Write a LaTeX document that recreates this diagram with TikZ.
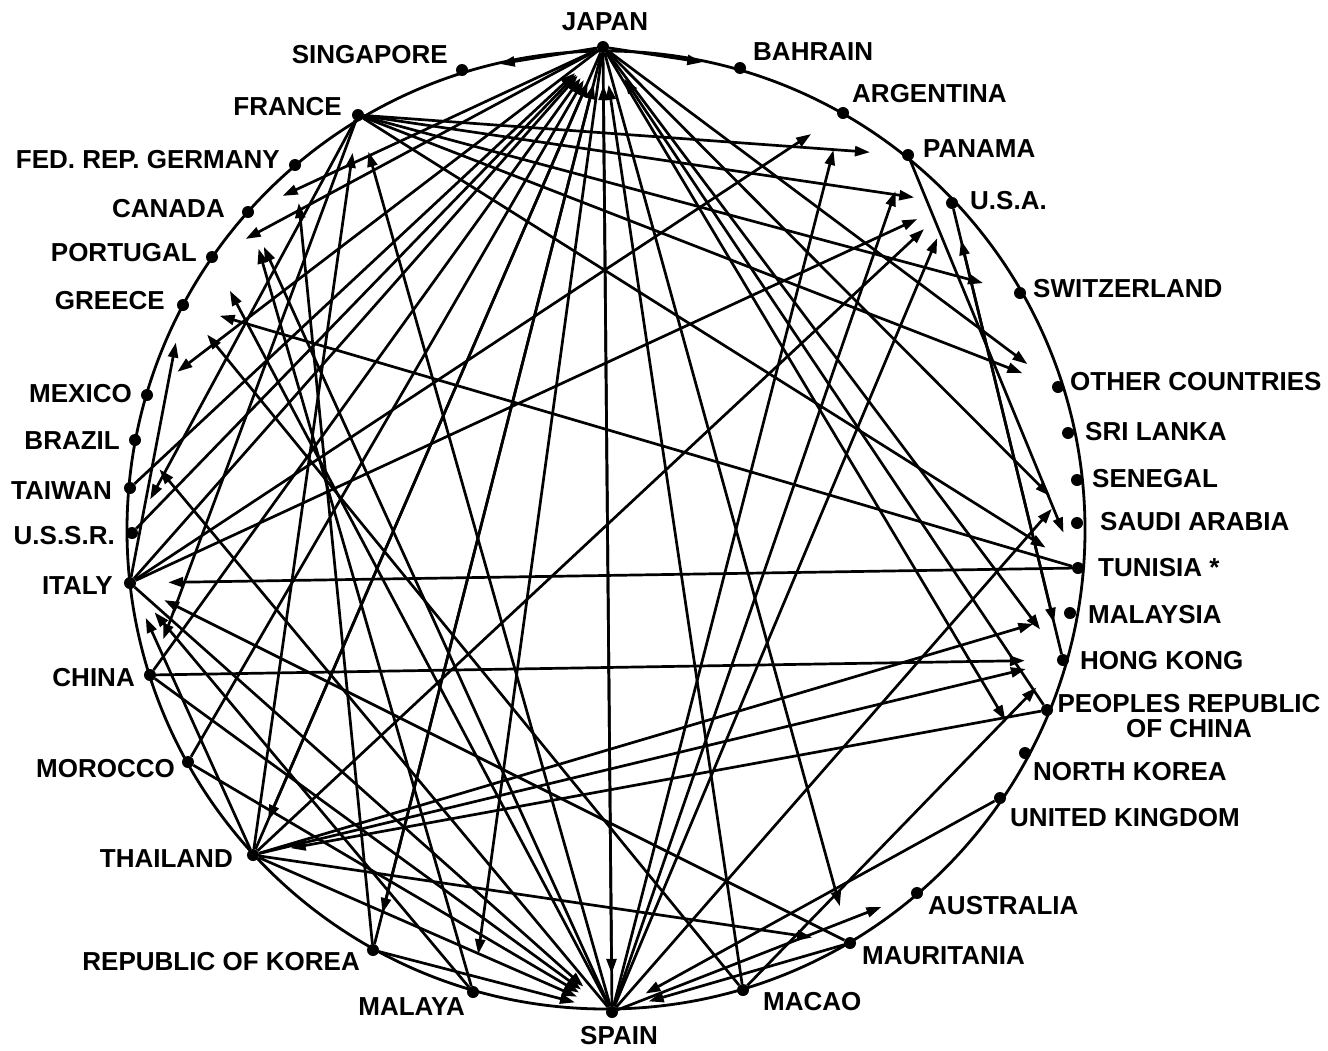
\documentclass[tikz,border=0pt]{standalone}
\usepackage{fontspec}
\setmainfont{Liberation Sans}
\usetikzlibrary{arrows.meta}
\newcommand{\labfont}{\bfseries\fontsize{26}{25}\selectfont}
\tikzset{
  dot/.style={circle, fill=black, inner sep=0pt, minimum size=12pt},
  lab/.style={font=\labfont, inner sep=0pt, text=black},
  link/.style={line width=2.7pt, -{Triangle[length=15pt,width=10pt]}, shorten >=32pt},
  rim/.style={circle, draw=black, line width=2.8pt, inner sep=0pt, minimum size=958pt}
}
\begin{document}
\begin{tikzpicture}[x=1pt,y=-1pt]
\useasboundingbox (0,0) rectangle (1328,1050);
\node[rim] (circ) at (606,530) {};
% dots
\node[dot] (japan) at (603,47) {};
\node[dot] (singapore) at (462,70) {};
\node[dot] (bahrain) at (740,68) {};
\node[dot] (argentina) at (843,113) {};
\node[dot] (panama) at (908,155) {};
\node[dot] (usa) at (952,203) {};
\node[dot] (switzerland) at (1020,293) {};
\node[dot] (other) at (1058,387) {};
\node[dot] (srilanka) at (1068,433) {};
\node[dot] (senegal) at (1077,480) {};
\node[dot] (saudi) at (1077,523) {};
\node[dot] (tunisia) at (1078,568) {};
\node[dot] (malaysia) at (1070,613) {};
\node[dot] (hongkong) at (1063,660) {};
\node[dot] (prc) at (1047,710) {};
\node[dot] (nkorea) at (1025,753) {};
\node[dot] (uk) at (1000,798) {};
\node[dot] (australia) at (917,893) {};
\node[dot] (mauritania) at (850,943) {};
\node[dot] (macao) at (743,990) {};
\node[dot] (spain) at (612,1012) {};
\node[dot] (malaya) at (473,992) {};
\node[dot] (korea) at (373,950) {};
\node[dot] (thailand) at (253,855) {};
\node[dot] (morocco) at (188,762) {};
\node[dot] (china) at (150,675) {};
\node[dot] (italy) at (130,583) {};
\node[dot] (ussr) at (132,533) {};
\node[dot] (taiwan) at (130,488) {};
\node[dot] (brazil) at (135,440) {};
\node[dot] (mexico) at (147,395) {};
\node[dot] (greece) at (183,305) {};
\node[dot] (portugal) at (212,257) {};
\node[dot] (canada) at (248,212) {};
\node[dot] (germany) at (295,165) {};
\node[dot] (france) at (358,115) {};
% labels
\node[lab] (ljapan) at (605,22) {JAPAN};
\node[lab, anchor=east] (lsingapore) at (448,55) {SINGAPORE};
\node[lab, anchor=west] (lbahrain) at (753,52) {BAHRAIN};
\node[lab, anchor=west] (largentina) at (852,94) {ARGENTINA};
\node[lab, anchor=west] (lpanama) at (923,149) {PANAMA};
\node[lab, anchor=west] (lusa) at (970,201) {U.S.A.};
\node[lab, anchor=west] (lswitzerland) at (1033,289) {SWITZERLAND};
\node[lab, anchor=west] (lother) at (1070,382) {OTHER COUNTRIES};
\node[lab, anchor=west] (lsrilanka) at (1085,432) {SRI LANKA};
\node[lab, anchor=west] (lsenegal) at (1092,479) {SENEGAL};
\node[lab, anchor=west] (lsaudi) at (1100,522) {SAUDI ARABIA};
\node[lab, anchor=west] (ltunisia) at (1098,568) {TUNISIA *};
\node[lab, anchor=west] (lmalaysia) at (1088,615) {MALAYSIA};
\node[lab, anchor=west] (lhongkong) at (1080,661) {HONG KONG};
\node[lab, align=center] (lprc) at (1189,716) {PEOPLES REPUBLIC\\OF CHINA};
\node[lab, anchor=west] (lnkorea) at (1033,772) {NORTH KOREA};
\node[lab, anchor=west] (luk) at (1010,818) {UNITED KINGDOM};
\node[lab, anchor=west] (laustralia) at (928,906) {AUSTRALIA};
\node[lab, anchor=west] (lmauritania) at (862,956) {MAURITANIA};
\node[lab, anchor=west] (lmacao) at (763,1002) {MACAO};
\node[lab] (lspain) at (619,1036) {SPAIN};
\node[lab, anchor=east] (lmalaya) at (465,1007) {MALAYA};
\node[lab, anchor=east] (lkorea) at (360,962) {REPUBLIC OF KOREA};
\node[lab, anchor=east] (lthailand) at (233,859) {THAILAND};
\node[lab, anchor=east] (lmorocco) at (175,769) {MOROCCO};
\node[lab, anchor=east] (lchina) at (135,678) {CHINA};
\node[lab, anchor=east] (litaly) at (113,586) {ITALY};
\node[lab, anchor=east] (lussr) at (115,536) {U.S.S.R.};
\node[lab, anchor=east] (ltaiwan) at (112,491) {TAIWAN};
\node[lab, anchor=east] (lbrazil) at (120,441) {BRAZIL};
\node[lab, anchor=east] (lmexico) at (132,394) {MEXICO};
\node[lab, anchor=east] (lgreece) at (165,301) {GREECE};
\node[lab, anchor=east] (lportugal) at (197,253) {PORTUGAL};
\node[lab, anchor=east] (lcanada) at (225,209) {CANADA};
\node[lab, anchor=east] (lgermany) at (280,160) {FED. REP. GERMANY};
\node[lab, anchor=east] (lfrance) at (342,107) {FRANCE};
% connectors
\foreach \a/\b in {
 japan/singapore, japan/bahrain, japan/canada, japan/portugal, japan/mexico,
 japan/spain, spain/japan, japan/other, japan/saudi, japan/hongkong,
 japan/nkorea, japan/mauritania, japan/malaya, japan/korea, japan/thailand,
 italy/japan, ussr/japan, taiwan/japan, china/japan, morocco/japan,
 thailand/japan, korea/japan, macao/japan, prc/japan,
 france/usa, france/panama, france/switzerland, france/other, france/tunisia,
 france/china, france/ussr, spain/france, thailand/france,
 tunisia/italy, tunisia/greece, panama/tunisia,
 china/hongkong, thailand/malaysia, thailand/hongkong, prc/thailand,
 thailand/spain, thailand/mauritania, italy/greece, thailand/usa,
 uk/spain, macao/hongkong, spain/argentina, italy/argentina, spain/panama,
 italy/usa, spain/usa, hongkong/usa, usa/hongkong, spain/senegal,
 spain/australia, spain/canada, malaya/canada, korea/germany, korea/spain,
 mauritania/italy, mauritania/spain, malaya/italy, thailand/italy,
 italy/spain, morocco/spain, spain/brazil, macao/greece, spain/portugal,
 china/spain}
 { \draw[link] (\a) -- (\b); }
\end{tikzpicture}
\end{document}
